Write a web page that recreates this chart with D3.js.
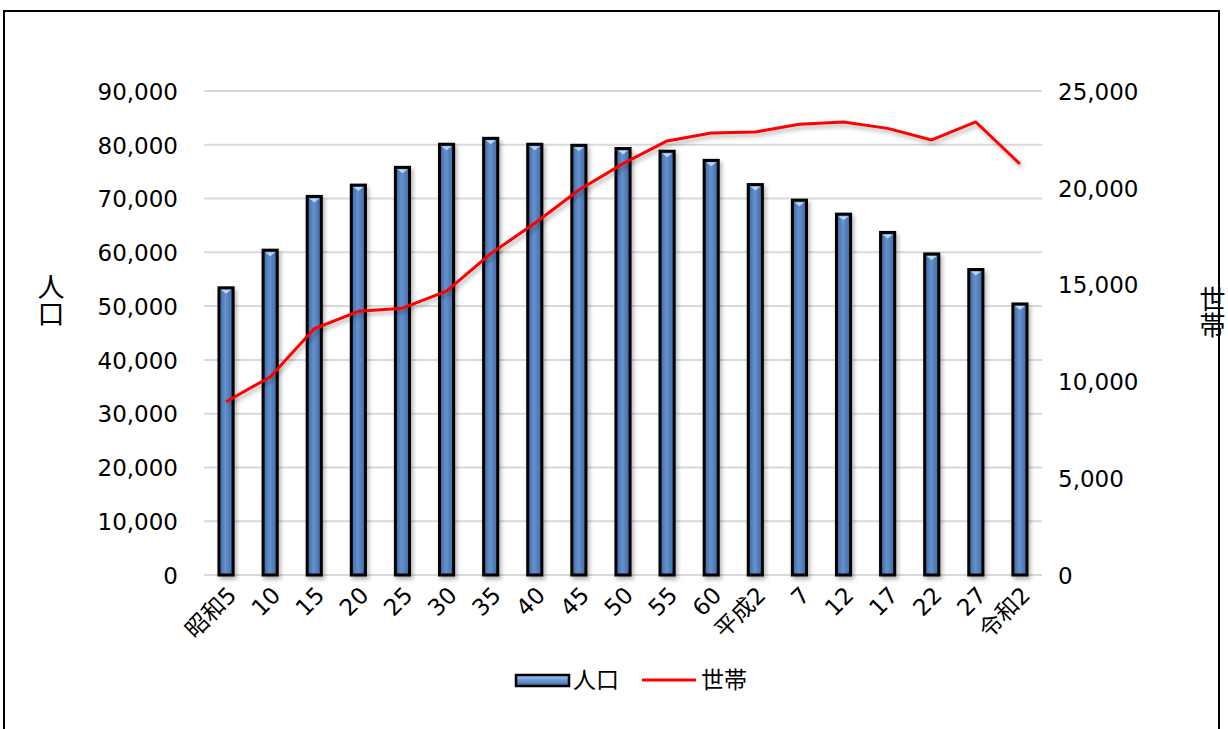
<!DOCTYPE html>
<html>
<head>
<meta charset="utf-8">
<script src="https://cdn.jsdelivr.net/npm/d3@7"></script>
<style>
  body { margin: 0; background: #fff; }
  text { font-family: "DejaVu Sans", sans-serif; fill: #000; }
  .jp { font-family: "DejaVu Sans", "Noto Sans CJK JP", sans-serif; }
</style>
</head>
<body>
<div id="chart"></div>
<script>
// data
var years = ["昭和5","10","15","20","25","30","35","40","45","50","55","60","平成2","7","12","17","22","27","令和2"];
var population = [53400, 60400, 70400, 72500, 75800, 80100, 81200, 80100, 79900, 79300, 78800, 77100, 72600, 69700, 67100, 63700, 59700, 56800, 50400];
var households = [8950, 10230, 12720, 13620, 13780, 14660, 16600, 18170, 19890, 21250, 22420, 22830, 22880, 23280, 23400, 23070, 22470, 23400, 21230];
var leftTicks = [0, 10000, 20000, 30000, 40000, 50000, 60000, 70000, 80000, 90000];
var rightTicks = [0, 5000, 10000, 15000, 20000, 25000];

var W = 1228, H = 729;
var margin = {top: 91, right: 186, bottom: 154, left: 204},
  width = W - margin.left - margin.right,
  height = H - margin.top - margin.bottom;

var svg = d3.select("#chart").append("svg")
  .attr("width", W).attr("height", H);

var defs = svg.append("defs");
var grad = defs.append("linearGradient").attr("id", "barGrad")
  .attr("x1", "0%").attr("x2", "100%").attr("y1", "0%").attr("y2", "0%");
grad.append("stop").attr("offset", "0%").attr("stop-color", "#3a64a0");
grad.append("stop").attr("offset", "45%").attr("stop-color", "#6592cc");
grad.append("stop").attr("offset", "100%").attr("stop-color", "#3d68a6");

var lgGrad = defs.append("linearGradient").attr("id", "legGrad")
  .attr("x1", "0%").attr("x2", "0%").attr("y1", "0%").attr("y2", "100%");
lgGrad.append("stop").attr("offset", "0%").attr("stop-color", "#a9cdf2");
lgGrad.append("stop").attr("offset", "50%").attr("stop-color", "#6a98d2");
lgGrad.append("stop").attr("offset", "100%").attr("stop-color", "#3f6aa8");

var shadow = defs.append("filter").attr("id", "shadow")
  .attr("x", "-50%").attr("y", "-20%").attr("width", "200%").attr("height", "140%");
shadow.append("feDropShadow").attr("dx", 2).attr("dy", 3).attr("stdDeviation", 2)
  .attr("flood-color", "#000").attr("flood-opacity", 0.3);

// frame
svg.append("rect")
  .attr("x", 4).attr("y", 11).attr("width", 1215).attr("height", 740)
  .attr("fill", "none").attr("stroke", "#000").attr("stroke-width", 2);

var g = svg.append("g")
  .attr("transform", "translate(" + margin.left + "," + margin.top + ")");

var x = d3.scaleBand().domain(years).range([0, width]).paddingInner(0.68).paddingOuter(0.34);
var y = d3.scaleLinear().domain([0, 90000]).range([height, 0]);
var y2 = d3.scaleLinear().domain([0, 25000]).range([height, 0]);

// gridlines
g.selectAll(".grid").data(leftTicks).enter().append("line")
  .attr("x1", 0).attr("x2", width)
  .attr("y1", function(d) { return y(d); }).attr("y2", function(d) { return y(d); })
  .attr("stroke", "#d9d9d9").attr("stroke-width", 2);

// left axis
var yAxis = g.append("g")
  .call(d3.axisLeft(y).tickValues(leftTicks).tickSize(0).tickPadding(26).tickFormat(d3.format(",")));
yAxis.select(".domain").remove();
yAxis.selectAll("text").style("font-size", "23px").attr("dy", "0.36em");

// right axis
var y2Axis = g.append("g").attr("transform", "translate(" + width + ",0)")
  .call(d3.axisRight(y2).tickValues(rightTicks).tickSize(0).tickPadding(16).tickFormat(d3.format(",")));
y2Axis.select(".domain").remove();
y2Axis.selectAll("text").style("font-size", "23px").attr("dy", "0.36em");

// bars
var bw = x.bandwidth();
var bars = g.selectAll(".bar").data(years).enter().append("g")
  .attr("filter", "url(#shadow)");
bars.append("rect")
  .attr("x", function(d) { return x(d); })
  .attr("y", function(d, i) { return y(population[i]); })
  .attr("width", bw)
  .attr("height", function(d, i) { return height - y(population[i]); })
  .attr("fill", "url(#barGrad)")
  .attr("stroke", "#000").attr("stroke-width", 3);
bars.append("path")
  .attr("d", function(d, i) {
    var x0 = x(d) + 2, x1 = x(d) + bw - 2, t = y(population[i]) + 2;
    return "M" + x0 + "," + t + "L" + x1 + "," + t + "L" + (x0 + x1) / 2 + "," + (t + 4) + "Z";
  })
  .attr("fill", "#b9d6f3");

// x axis labels
g.selectAll(".xl").data(years).enter().append("text")
  .attr("class", "jp")
  .attr("transform", function(d) {
    return "translate(" + (x(d) + bw / 2 + 6) + "," + (height + 16) + ") rotate(-45)";
  })
  .attr("text-anchor", "end")
  .attr("dy", "0.35em")
  .style("font-size", "23px")
  .text(function(d) { return d; });

// households line
var line = d3.line()
  .x(function(d, i) { return x(years[i]) + bw / 2; })
  .y(function(d) { return y2(d); });
g.append("path")
  .datum(households)
  .attr("d", line)
  .attr("fill", "none")
  .attr("stroke", "#ff0000")
  .attr("stroke-width", 3)
  .attr("stroke-linejoin", "round")
  .attr("filter", "url(#shadow)");

// axis titles
svg.append("text").attr("class", "jp")
  .attr("x", 49).attr("y", 300)
  .attr("text-anchor", "middle")
  .attr("writing-mode", "vertical-rl")
  .style("font-size", "27px")
  .text("人口");
svg.append("text").attr("class", "jp")
  .attr("x", 1210).attr("y", 312)
  .attr("text-anchor", "middle")
  .attr("writing-mode", "vertical-rl")
  .style("font-size", "26px")
  .text("世帯");

// legend
var lg = svg.append("g");
lg.append("rect").attr("x", 516).attr("y", 675).attr("width", 53).attr("height", 11)
  .attr("fill", "url(#legGrad)").attr("stroke", "#000").attr("stroke-width", 2.5);
lg.append("text").attr("class", "jp").attr("x", 573).attr("y", 680).attr("dy", "0.35em")
  .style("font-size", "23px").text("人口");
lg.append("line").attr("x1", 642).attr("x2", 696).attr("y1", 680).attr("y2", 680)
  .attr("stroke", "#ff0000").attr("stroke-width", 3);
lg.append("text").attr("class", "jp").attr("x", 701).attr("y", 680).attr("dy", "0.35em")
  .style("font-size", "23px").text("世帯");
</script>
</body>
</html>
